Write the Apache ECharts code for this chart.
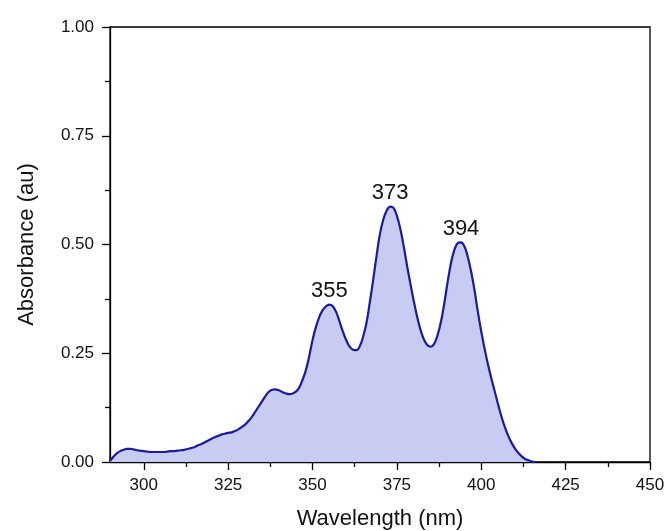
<!DOCTYPE html>
<html>
<head>
<meta charset="utf-8">
<script src="https://cdn.jsdelivr.net/npm/echarts@6/dist/echarts.min.js"></script>
<style>
html,body{margin:0;padding:0;background:#fff;}
#chart{width:666px;height:531px;}
</style>
</head>
<body>
<div id="chart"></div>
<script>
var wavelengths = [290,291,292,293,294,295,296,297,298,299,300,301,302,303,304,305,306,307,308,309,310,311,312,313,314,315,316,317,318,319,320,321,322,323,324,325,326,327,328,329,330,331,332,333,334,335,336,337,338,339,340,341,342,343,344,345,346,347,348,349,350,351,352,353,354,355,356,357,358,359,360,361,362,363,364,365,366,367,368,369,370,371,372,373,374,375,376,377,378,379,380,381,382,383,384,385,386,387,388,389,390,391,392,393,394,395,396,397,398,399,400,401,402,403,404,405,406,407,408,409,410,411,412,413,414,415,416];
var absorbance = [0.002,0.012,0.020,0.025,0.028,0.030,0.030,0.029,0.027,0.026,0.025,0.024,0.023,0.023,0.023,0.023,0.023,0.024,0.025,0.025,0.026,0.027,0.028,0.030,0.032,0.034,0.038,0.041,0.045,0.049,0.053,0.057,0.060,0.063,0.065,0.067,0.068,0.071,0.075,0.080,0.086,0.094,0.103,0.115,0.127,0.139,0.151,0.161,0.166,0.167,0.165,0.161,0.158,0.156,0.157,0.161,0.170,0.188,0.210,0.242,0.280,0.310,0.333,0.349,0.358,0.362,0.358,0.345,0.323,0.300,0.280,0.265,0.258,0.257,0.266,0.288,0.320,0.368,0.420,0.475,0.525,0.558,0.578,0.587,0.584,0.566,0.537,0.497,0.452,0.410,0.370,0.334,0.304,0.282,0.269,0.265,0.271,0.290,0.320,0.362,0.412,0.456,0.487,0.503,0.505,0.496,0.472,0.438,0.395,0.345,0.300,0.260,0.224,0.192,0.162,0.132,0.104,0.080,0.060,0.044,0.031,0.021,0.013,0.007,0.004,0.001,0];
var peakLabels = ['355','373','394'];
var peakX = [355,373,394];
var peakY = [0.362,0.587,0.505];
var xTicks = [300,325,350,375,400,425,450];
var xMinorTicks = [312.5,337.5,362.5,387.5,412.5,437.5];
var yTicks = [0,0.25,0.5,0.75,1.0];

var FONT = "'Liberation Sans', Arial, sans-serif";
var seriesData = wavelengths.map(function(w,i){return [w, absorbance[i]];});
var markData = peakLabels.map(function(t,i){return {coord:[peakX[i], peakY[i]], value:t};});

var chart = echarts.init(document.getElementById('chart'));
chart.setOption({
  backgroundColor:'#ffffff',
  animation:false,
  grid:{left:110,right:16,top:27,bottom:69,outerBoundsMode:'none',containLabel:false,show:true,borderColor:'#000',borderWidth:1.3,backgroundColor:'transparent'},
  xAxis:[{
    type:'value',min:290,max:450,
    name:'Wavelength (nm)',nameLocation:'middle',nameGap:46,
    nameTextStyle:{fontFamily:FONT,fontSize:22,color:'#111'},
    axisLine:{show:true,onZero:false,lineStyle:{color:'#000',width:1.3}},
    axisTick:{show:true,inside:false,length:8,lineStyle:{color:'#000',width:1.3},customValues:xTicks},
    axisLabel:{fontFamily:FONT,fontSize:17,color:'#111',margin:15,customValues:xTicks},
    splitLine:{show:false}
  },{
    type:'value',min:290,max:450,position:'bottom',
    axisLine:{show:false},
    axisTick:{show:true,inside:false,length:5,lineStyle:{color:'#000',width:1.3},customValues:xMinorTicks},
    axisLabel:{show:false},
    splitLine:{show:false}
  }],
  yAxis:{
    type:'value',min:0,max:1,interval:0.25,
    name:'Absorbance (au)',nameLocation:'middle',nameGap:72,
    nameTextStyle:{fontFamily:FONT,fontSize:22,color:'#111'},
    axisLine:{show:true,lineStyle:{color:'#000',width:1.3}},
    axisTick:{show:true,inside:false,length:8,lineStyle:{color:'#000',width:1.3}},
    minorTick:{show:true,splitNumber:2,length:5,lineStyle:{color:'#000',width:1.3}},
    axisLabel:{fontFamily:FONT,fontSize:17,color:'#111',margin:16,formatter:function(v){return v.toFixed(2);}},
    splitLine:{show:false}
  },
  series:[{
    type:'line',
    xAxisIndex:0,
    data:seriesData,
    smooth:0.4,
    showSymbol:false,
    lineStyle:{color:'#1a1a9c',width:2.2},
    areaStyle:{color:'#c8cbf2',opacity:1},
    markPoint:{
      symbol:'circle',symbolSize:1,
      itemStyle:{color:'rgba(0,0,0,0)'},
      label:{show:true,position:'top',distance:2,fontFamily:FONT,fontSize:22,color:'#111',formatter:function(p){return p.value;}},
      data:markData
    }
  }]
});
</script>
</body>
</html>
